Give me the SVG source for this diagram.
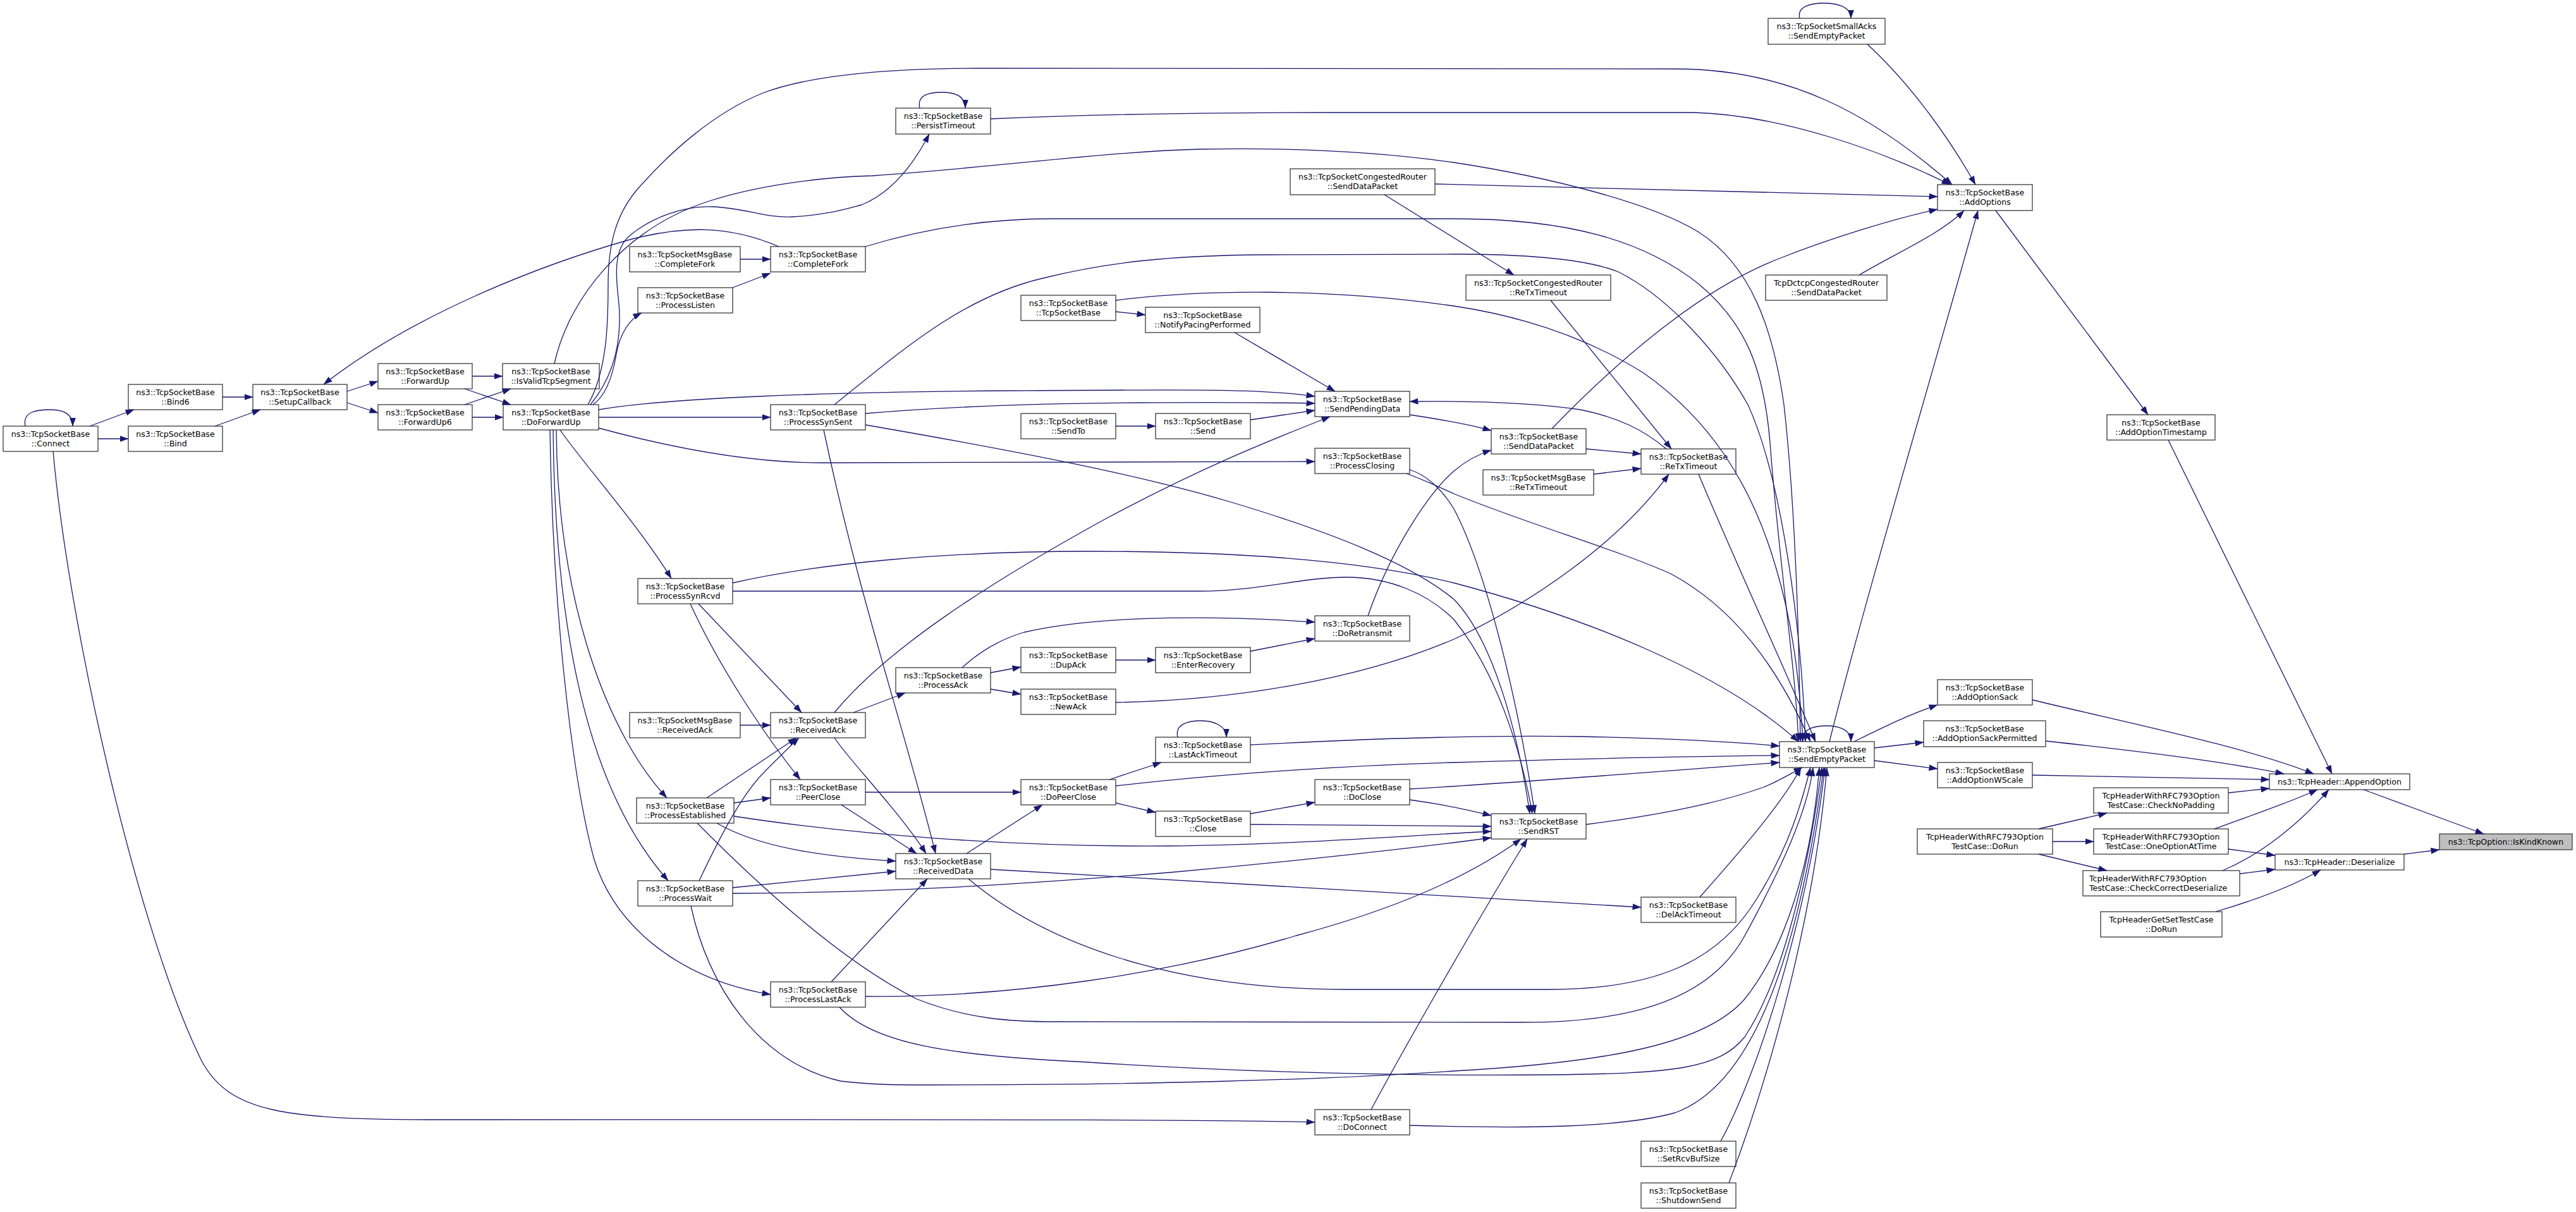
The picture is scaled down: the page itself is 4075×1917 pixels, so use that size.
<svg xmlns="http://www.w3.org/2000/svg" width="4075" height="1917" viewBox="0 0 4075 1917">
<defs>
<marker id="a" markerUnits="userSpaceOnUse" markerWidth="14" markerHeight="10" viewBox="0 0 14 10" refX="13.5" refY="5" orient="auto"><path d="M0,0 L14,5 L0,10 z" fill="#191970"/></marker>
<style>
rect.n{fill:#ffffff;stroke:#484848;stroke-width:1.4}
rect.r{fill:#bfbfbf;stroke:#484848;stroke-width:1.4}
text{font-family:"DejaVu Sans","Liberation Sans",sans-serif;font-size:12.6px;fill:#000000;text-anchor:middle}
text.l{text-anchor:start}
path.e{fill:none;stroke:#191970;stroke-width:1.3;marker-end:url(#a)}
</style>
</defs>
<rect x="0" y="0" width="4075" height="1917" fill="#ffffff"/>
<g id="nodes">
<g id="n_connect"><rect class="n" x="5" y="674" width="150" height="40"/><text x="80" y="691">ns3::TcpSocketBase</text><text x="80" y="706">::Connect</text></g>
<g id="n_bind6"><rect class="n" x="203" y="608" width="149" height="40"/><text x="277.5" y="625">ns3::TcpSocketBase</text><text x="277.5" y="640">::Bind6</text></g>
<g id="n_bind"><rect class="n" x="203" y="674" width="149" height="40"/><text x="277.5" y="691">ns3::TcpSocketBase</text><text x="277.5" y="706">::Bind</text></g>
<g id="n_setup"><rect class="n" x="400" y="608" width="149" height="40"/><text x="474.5" y="625">ns3::TcpSocketBase</text><text x="474.5" y="640">::SetupCallback</text></g>
<g id="n_fwd"><rect class="n" x="598" y="575" width="149" height="40"/><text x="672.5" y="592">ns3::TcpSocketBase</text><text x="672.5" y="607">::ForwardUp</text></g>
<g id="n_fwd6"><rect class="n" x="598" y="640" width="149" height="40"/><text x="672.5" y="657">ns3::TcpSocketBase</text><text x="672.5" y="672">::ForwardUp6</text></g>
<g id="n_isvalid"><rect class="n" x="795" y="575" width="153" height="40"/><text x="871.5" y="592">ns3::TcpSocketBase</text><text x="871.5" y="607">::IsValidTcpSegment</text></g>
<g id="n_dfu"><rect class="n" x="796" y="640" width="151" height="40"/><text x="871.5" y="657">ns3::TcpSocketBase</text><text x="871.5" y="672">::DoForwardUp</text></g>
<g id="n_msgcf"><rect class="n" x="996" y="390" width="175" height="40"/><text x="1083.5" y="407">ns3::TcpSocketMsgBase</text><text x="1083.5" y="422">::CompleteFork</text></g>
<g id="n_plisten"><rect class="n" x="1009" y="455" width="150" height="40"/><text x="1084" y="472">ns3::TcpSocketBase</text><text x="1084" y="487">::ProcessListen</text></g>
<g id="n_psr"><rect class="n" x="1009" y="915" width="150" height="40"/><text x="1084" y="932">ns3::TcpSocketBase</text><text x="1084" y="947">::ProcessSynRcvd</text></g>
<g id="n_msgra"><rect class="n" x="996" y="1127" width="175" height="40"/><text x="1083.5" y="1144">ns3::TcpSocketMsgBase</text><text x="1083.5" y="1159">::ReceivedAck</text></g>
<g id="n_pest"><rect class="n" x="1007" y="1262" width="154" height="40"/><text x="1084" y="1279">ns3::TcpSocketBase</text><text x="1084" y="1294">::ProcessEstablished</text></g>
<g id="n_pwait"><rect class="n" x="1009" y="1393" width="150" height="40"/><text x="1084" y="1410">ns3::TcpSocketBase</text><text x="1084" y="1425">::ProcessWait</text></g>
<g id="n_cf"><rect class="n" x="1219" y="390" width="150" height="40"/><text x="1294" y="407">ns3::TcpSocketBase</text><text x="1294" y="422">::CompleteFork</text></g>
<g id="n_pss"><rect class="n" x="1219" y="640" width="150" height="40"/><text x="1294" y="657">ns3::TcpSocketBase</text><text x="1294" y="672">::ProcessSynSent</text></g>
<g id="n_ra"><rect class="n" x="1219" y="1127" width="150" height="40"/><text x="1294" y="1144">ns3::TcpSocketBase</text><text x="1294" y="1159">::ReceivedAck</text></g>
<g id="n_pclose"><rect class="n" x="1219" y="1233" width="150" height="40"/><text x="1294" y="1250">ns3::TcpSocketBase</text><text x="1294" y="1265">::PeerClose</text></g>
<g id="n_plast"><rect class="n" x="1219" y="1553" width="150" height="40"/><text x="1294" y="1570">ns3::TcpSocketBase</text><text x="1294" y="1585">::ProcessLastAck</text></g>
<g id="n_persist"><rect class="n" x="1417" y="171" width="150" height="41"/><text x="1492" y="188">ns3::TcpSocketBase</text><text x="1492" y="203">::PersistTimeout</text></g>
<g id="n_pack"><rect class="n" x="1417" y="1056" width="150" height="40"/><text x="1492" y="1073">ns3::TcpSocketBase</text><text x="1492" y="1088">::ProcessAck</text></g>
<g id="n_rd"><rect class="n" x="1417" y="1350" width="150" height="40"/><text x="1492" y="1367">ns3::TcpSocketBase</text><text x="1492" y="1382">::ReceivedData</text></g>
<g id="n_tsb"><rect class="n" x="1615" y="467" width="150" height="40"/><text x="1690" y="484">ns3::TcpSocketBase</text><text x="1690" y="499">::TcpSocketBase</text></g>
<g id="n_sendto"><rect class="n" x="1615" y="654" width="150" height="40"/><text x="1690" y="671">ns3::TcpSocketBase</text><text x="1690" y="686">::SendTo</text></g>
<g id="n_dupack"><rect class="n" x="1615" y="1024" width="150" height="40"/><text x="1690" y="1041">ns3::TcpSocketBase</text><text x="1690" y="1056">::DupAck</text></g>
<g id="n_newack"><rect class="n" x="1615" y="1090" width="150" height="40"/><text x="1690" y="1107">ns3::TcpSocketBase</text><text x="1690" y="1122">::NewAck</text></g>
<g id="n_dpc"><rect class="n" x="1615" y="1233" width="150" height="40"/><text x="1690" y="1250">ns3::TcpSocketBase</text><text x="1690" y="1265">::DoPeerClose</text></g>
<g id="n_npp"><rect class="n" x="1812" y="486" width="181" height="40"/><text x="1902.5" y="503">ns3::TcpSocketBase</text><text x="1902.5" y="518">::NotifyPacingPerformed</text></g>
<g id="n_send"><rect class="n" x="1828" y="654" width="150" height="40"/><text x="1903" y="671">ns3::TcpSocketBase</text><text x="1903" y="686">::Send</text></g>
<g id="n_enterrec"><rect class="n" x="1828" y="1024" width="150" height="40"/><text x="1903" y="1041">ns3::TcpSocketBase</text><text x="1903" y="1056">::EnterRecovery</text></g>
<g id="n_lat"><rect class="n" x="1828" y="1166" width="150" height="40"/><text x="1903" y="1183">ns3::TcpSocketBase</text><text x="1903" y="1198">::LastAckTimeout</text></g>
<g id="n_close"><rect class="n" x="1828" y="1283" width="150" height="40"/><text x="1903" y="1300">ns3::TcpSocketBase</text><text x="1903" y="1315">::Close</text></g>
<g id="n_congsdp"><rect class="n" x="2041" y="267" width="229" height="41"/><text x="2155.5" y="284">ns3::TcpSocketCongestedRouter</text><text x="2155.5" y="299">::SendDataPacket</text></g>
<g id="n_spd"><rect class="n" x="2080" y="619" width="150" height="40"/><text x="2155" y="636">ns3::TcpSocketBase</text><text x="2155" y="651">::SendPendingData</text></g>
<g id="n_pclosing"><rect class="n" x="2080" y="709" width="150" height="40"/><text x="2155" y="726">ns3::TcpSocketBase</text><text x="2155" y="741">::ProcessClosing</text></g>
<g id="n_doretx"><rect class="n" x="2080" y="974" width="150" height="40"/><text x="2155" y="991">ns3::TcpSocketBase</text><text x="2155" y="1006">::DoRetransmit</text></g>
<g id="n_doclose"><rect class="n" x="2080" y="1233" width="150" height="40"/><text x="2155" y="1250">ns3::TcpSocketBase</text><text x="2155" y="1265">::DoClose</text></g>
<g id="n_doconn"><rect class="n" x="2080" y="1755" width="150" height="40"/><text x="2155" y="1772">ns3::TcpSocketBase</text><text x="2155" y="1787">::DoConnect</text></g>
<g id="n_congrto"><rect class="n" x="2319" y="435" width="229" height="40"/><text x="2433.5" y="452">ns3::TcpSocketCongestedRouter</text><text x="2433.5" y="467">::ReTxTimeout</text></g>
<g id="n_sdp"><rect class="n" x="2359" y="678" width="150" height="40"/><text x="2434" y="695">ns3::TcpSocketBase</text><text x="2434" y="710">::SendDataPacket</text></g>
<g id="n_msgrto"><rect class="n" x="2346" y="743" width="175" height="40"/><text x="2433.5" y="760">ns3::TcpSocketMsgBase</text><text x="2433.5" y="775">::ReTxTimeout</text></g>
<g id="n_rst"><rect class="n" x="2359" y="1287" width="150" height="40"/><text x="2434" y="1304">ns3::TcpSocketBase</text><text x="2434" y="1319">::SendRST</text></g>
<g id="n_rto"><rect class="n" x="2596" y="710" width="150" height="40"/><text x="2671" y="727">ns3::TcpSocketBase</text><text x="2671" y="742">::ReTxTimeout</text></g>
<g id="n_delack"><rect class="n" x="2596" y="1419" width="150" height="40"/><text x="2671" y="1436">ns3::TcpSocketBase</text><text x="2671" y="1451">::DelAckTimeout</text></g>
<g id="n_setrcv"><rect class="n" x="2596" y="1805" width="150" height="40"/><text x="2671" y="1822">ns3::TcpSocketBase</text><text x="2671" y="1837">::SetRcvBufSize</text></g>
<g id="n_shutdown"><rect class="n" x="2596" y="1871" width="150" height="40"/><text x="2671" y="1888">ns3::TcpSocketBase</text><text x="2671" y="1903">::ShutdownSend</text></g>
<g id="n_smallacks"><rect class="n" x="2797" y="29" width="185" height="41"/><text x="2889.5" y="46">ns3::TcpSocketSmallAcks</text><text x="2889.5" y="61">::SendEmptyPacket</text></g>
<g id="n_dctcp"><rect class="n" x="2793" y="435" width="192" height="40"/><text x="2889" y="452">TcpDctcpCongestedRouter</text><text x="2889" y="467">::SendDataPacket</text></g>
<g id="n_sep"><rect class="n" x="2815" y="1173" width="150" height="41"/><text x="2890" y="1190">ns3::TcpSocketBase</text><text x="2890" y="1205">::SendEmptyPacket</text></g>
<g id="n_addopts"><rect class="n" x="3065" y="292" width="150" height="41"/><text x="3140" y="309">ns3::TcpSocketBase</text><text x="3140" y="324">::AddOptions</text></g>
<g id="n_aosack"><rect class="n" x="3065" y="1075" width="150" height="40"/><text x="3140" y="1092">ns3::TcpSocketBase</text><text x="3140" y="1107">::AddOptionSack</text></g>
<g id="n_aosackp"><rect class="n" x="3043" y="1140" width="193" height="41"/><text x="3139.5" y="1157">ns3::TcpSocketBase</text><text x="3139.5" y="1172">::AddOptionSackPermitted</text></g>
<g id="n_aows"><rect class="n" x="3065" y="1206" width="150" height="40"/><text x="3140" y="1223">ns3::TcpSocketBase</text><text x="3140" y="1238">::AddOptionWScale</text></g>
<g id="n_hdrrun"><rect class="n" x="3033" y="1311" width="214" height="40"/><text x="3140" y="1328">TcpHeaderWithRFC793Option</text><text x="3140" y="1343">TestCase::DoRun</text></g>
<g id="n_aots"><rect class="n" x="3333" y="656" width="171" height="40"/><text x="3418.5" y="673">ns3::TcpSocketBase</text><text x="3418.5" y="688">::AddOptionTimestamp</text></g>
<g id="n_cnp"><rect class="n" x="3312" y="1246" width="213" height="40"/><text x="3418.5" y="1263">TcpHeaderWithRFC793Option</text><text x="3418.5" y="1278">TestCase::CheckNoPadding</text></g>
<g id="n_ooat"><rect class="n" x="3312" y="1311" width="213" height="40"/><text x="3418.5" y="1328">TcpHeaderWithRFC793Option</text><text x="3418.5" y="1343">TestCase::OneOptionAtTime</text></g>
<g id="n_ccd"><rect class="n" x="3295" y="1377" width="248" height="40"/><text class="l" x="3305" y="1394">TcpHeaderWithRFC793Option</text><text class="l" x="3305" y="1409">TestCase::CheckCorrectDeserialize</text></g>
<g id="n_gsdr"><rect class="n" x="3323" y="1442" width="192" height="40"/><text x="3419" y="1459">TcpHeaderGetSetTestCase</text><text x="3419" y="1474">::DoRun</text></g>
<g id="n_append"><rect class="n" x="3590" y="1224" width="222" height="25"/><text x="3701" y="1241">ns3::TcpHeader::AppendOption</text></g>
<g id="n_deser"><rect class="n" x="3599" y="1351" width="204" height="25"/><text x="3701" y="1368">ns3::TcpHeader::Deserialize</text></g>
<g id="n_kind"><rect class="r" x="3859" y="1319" width="210" height="25"/><text x="3964" y="1336">ns3::TcpOption::IsKindKnown</text></g>
</g>
<g id="edges">
<path class="e" d="M40,674 C35,650 60,648 80,648 C100,648 115,655 115,674"/>
<path class="e" d="M142,674 L212,648"/>
<path class="e" d="M155,694 L203,694"/>
<path class="e" d="M84,714 C110,1000 220,1480 320,1680 C365,1760 450,1771 700,1771 C1500,1771 1900,1770 2080,1775"/>
<path class="e" d="M352,628 L400,628"/>
<path class="e" d="M340,674 L412,648"/>
<path class="e" d="M549,619 L598,603"/>
<path class="e" d="M549,637 L598,653"/>
<path class="e" d="M747,595 L795,595"/>
<path class="e" d="M735,615 L808,640"/>
<path class="e" d="M735,640 L808,615"/>
<path class="e" d="M747,660 L796,660"/>
<path class="e" d="M1232,390 C1150,355 1080,358 1000,378 C850,420 650,500 512,608"/>
<path class="e" d="M930,640 C962,585 962,500 962,450 C962,385 975,340 1006,302 C1060,240 1130,178 1207,147 C1290,116 1420,108 1550,108 L2650,109 C2830,109 2960,180 3088,292"/>
<path class="e" d="M877,575 C900,470 990,360 1122,318 C1200,293 1300,280 1380,278 C1600,262 1750,240 1897,236 C2050,233 2180,240 2300,257 C2450,280 2610,320 2687,367 C2770,420 2805,520 2822,640 C2840,800 2846,1000 2848,1173"/>
<path class="e" d="M934,640 C975,590 985,530 978,470 C972,420 975,390 997,372 C1030,345 1080,325 1127,327 C1180,329 1210,345 1252,343 C1310,340 1340,330 1363,324 C1410,305 1445,260 1470,212"/>
<path class="e" d="M938,640 C960,625 970,590 975,560 C980,530 995,505 1015,495"/>
<path class="e" d="M947,648 C1050,630 1300,620 1600,618 C1900,616 2000,615 2080,627"/>
<path class="e" d="M947,660 L1219,660"/>
<path class="e" d="M947,677 C1050,705 1180,732 1300,732 C1600,732 1900,731 2080,730"/>
<path class="e" d="M886,680 C920,730 1010,830 1062,915"/>
<path class="e" d="M880,680 C882,950 960,1160 1055,1262"/>
<path class="e" d="M875,680 C878,1000 930,1250 1057,1393"/>
<path class="e" d="M870,680 C875,1000 910,1250 940,1360 C975,1470 1080,1550 1219,1573"/>
<path class="e" d="M1171,410 L1219,410"/>
<path class="e" d="M1159,455 L1219,432"/>
<path class="e" d="M1369,390 C1450,365 1550,346 1665,346 L2300,346 C2480,346 2600,380 2687,449 C2760,510 2790,580 2800,700 C2815,900 2840,1050 2845,1173"/>
<path class="e" d="M1369,654 C1500,643 1650,638 1800,637 C1950,636 2030,637 2080,638"/>
<path class="e" d="M1320,640 C1420,560 1520,470 1650,440 C1750,415 1850,404 2000,403 L2300,402 C2420,402 2510,410 2560,430 C2640,470 2720,560 2765,640 C2820,760 2850,1000 2856,1173"/>
<path class="e" d="M1369,672 C1600,712 1800,750 1950,795 C2100,840 2230,890 2300,948 C2360,1010 2400,1150 2420,1287"/>
<path class="e" d="M1303,680 C1360,950 1430,1150 1480,1350"/>
<path class="e" d="M1105,955 L1268,1127"/>
<path class="e" d="M1092,955 C1140,1060 1215,1170 1266,1233"/>
<path class="e" d="M1159,922 C1300,890 1500,872 1725,872 C1950,872 2150,885 2300,922 C2500,975 2720,1060 2845,1173"/>
<path class="e" d="M1159,935 L1897,935 C1990,935 2060,913 2130,913 C2200,913 2260,940 2300,980 C2365,1060 2405,1180 2424,1287"/>
<path class="e" d="M1171,1147 L1219,1147"/>
<path class="e" d="M1350,1127 L1432,1096"/>
<path class="e" d="M1320,1127 C1400,1030 1550,930 1750,820 C1900,740 2000,700 2104,659"/>
<path class="e" d="M1320,1167 C1345,1205 1420,1280 1465,1350"/>
<path class="e" d="M1161,1270 L1219,1262"/>
<path class="e" d="M1118,1262 L1260,1167"/>
<path class="e" d="M1134,1302 C1200,1340 1300,1355 1417,1362"/>
<path class="e" d="M1161,1291 C1350,1320 1600,1340 1850,1338 C2050,1336 2250,1320 2359,1315"/>
<path class="e" d="M1103,1302 C1200,1400 1330,1520 1450,1580 C1530,1612 1600,1616 1669,1616 L2400,1617 C2560,1618 2700,1590 2760,1480 C2820,1370 2860,1280 2868,1214"/>
<path class="e" d="M1106,1393 C1150,1300 1180,1250 1210,1220 C1230,1200 1250,1180 1264,1167"/>
<path class="e" d="M1159,1404 L1417,1378"/>
<path class="e" d="M1159,1413 C1400,1412 1600,1400 1850,1380 C2050,1362 2250,1340 2359,1325"/>
<path class="e" d="M1093,1433 C1120,1560 1200,1680 1330,1710 C1380,1716 1420,1716 1476,1716 C1800,1716 2100,1708 2300,1694 C2550,1680 2700,1650 2760,1580 C2840,1480 2870,1320 2878,1214"/>
<path class="e" d="M1315,1553 L1467,1390"/>
<path class="e" d="M1369,1576 C1600,1578 1850,1540 2050,1480 C2200,1440 2320,1390 2406,1327"/>
<path class="e" d="M1328,1593 C1380,1650 1500,1670 1720,1680 C1950,1695 2200,1702 2450,1700 C2650,1698 2720,1690 2760,1640 C2820,1550 2860,1380 2882,1214"/>
<path class="e" d="M1529,1350 L1649,1273"/>
<path class="e" d="M1567,1375 L2596,1435"/>
<path class="e" d="M1532,1390 C1650,1490 1850,1565 2128,1565 L2450,1565 C2620,1565 2720,1520 2780,1420 C2830,1340 2850,1270 2864,1214"/>
<path class="e" d="M1369,1253 L1615,1253"/>
<path class="e" d="M1331,1273 L1450,1350"/>
<path class="e" d="M1567,1064 L1615,1055"/>
<path class="e" d="M1567,1090 L1615,1098"/>
<path class="e" d="M1522,1056 C1550,1030 1580,1012 1620,1000 C1750,970 1950,975 2080,984"/>
<path class="e" d="M1765,1044 L1828,1044"/>
<path class="e" d="M1978,1030 L2080,1010"/>
<path class="e" d="M1765,1111 C1950,1108 2150,1075 2300,1011 C2420,955 2560,860 2640,750"/>
<path class="e" d="M2164,974 C2200,870 2260,780 2300,745 C2320,728 2340,718 2359,712"/>
<path class="e" d="M1863,1166 C1858,1145 1880,1140 1900,1140 C1920,1140 1940,1148 1940,1166"/>
<path class="e" d="M1978,1178 C2100,1172 2300,1162 2500,1165 C2650,1168 2750,1174 2815,1180"/>
<path class="e" d="M1755,1233 L1837,1206"/>
<path class="e" d="M1765,1243 C1950,1222 2150,1210 2300,1206 C2500,1200 2700,1196 2815,1195"/>
<path class="e" d="M1765,1270 L1828,1285"/>
<path class="e" d="M1978,1287 L2080,1269"/>
<path class="e" d="M1978,1304 C2100,1305 2250,1306 2359,1307"/>
<path class="e" d="M2230,1248 C2400,1238 2600,1222 2815,1206"/>
<path class="e" d="M2230,1265 C2280,1272 2320,1280 2359,1290"/>
<path class="e" d="M2509,1304 C2620,1290 2720,1270 2790,1245 C2815,1235 2835,1222 2851,1214"/>
<path class="e" d="M2689,1419 C2750,1350 2820,1270 2849,1214"/>
<path class="e" d="M2169,1755 C2220,1660 2340,1450 2416,1327"/>
<path class="e" d="M2230,1780 C2400,1785 2560,1785 2650,1760 C2760,1720 2840,1550 2885,1214"/>
<path class="e" d="M2722,1805 C2780,1700 2860,1450 2887,1214"/>
<path class="e" d="M2735,1871 C2800,1700 2870,1450 2890,1214"/>
<path class="e" d="M2851,1173 C2850,1150 2875,1148 2890,1148 C2905,1148 2928,1152 2928,1173"/>
<path class="e" d="M2894,1173 C2950,950 3040,650 3129,333"/>
<path class="e" d="M2933,1173 C2980,1150 3020,1130 3065,1115"/>
<path class="e" d="M2965,1183 L3043,1174"/>
<path class="e" d="M2965,1203 L3065,1216"/>
<path class="e" d="M1765,493 L1812,498"/>
<path class="e" d="M1765,475 C1900,458 2100,455 2300,484 C2420,502 2520,540 2600,590 C2700,660 2770,760 2810,900 C2840,1000 2848,1100 2852,1173"/>
<path class="e" d="M1953,526 L2112,619"/>
<path class="e" d="M1765,674 L1828,674"/>
<path class="e" d="M1978,664 L2080,649"/>
<path class="e" d="M2636,710 C2600,680 2560,660 2500,648 C2420,636 2320,634 2230,635"/>
<path class="e" d="M2230,656 C2270,662 2320,670 2359,681"/>
<path class="e" d="M2509,710 L2596,718"/>
<path class="e" d="M2455,678 C2540,590 2680,460 2817,408 C2900,375 3000,345 3065,331"/>
<path class="e" d="M2521,750 L2596,741"/>
<path class="e" d="M2453,475 L2644,710"/>
<path class="e" d="M2687,750 C2750,900 2820,1050 2872,1173"/>
<path class="e" d="M2225,749 C2260,762 2280,772 2300,781 C2420,830 2560,870 2644,908 C2740,960 2810,1050 2864,1173"/>
<path class="e" d="M2230,743 C2260,752 2285,780 2300,805 C2350,900 2400,1100 2428,1287"/>
<path class="e" d="M2270,291 L3065,311"/>
<path class="e" d="M2190,308 L2395,435"/>
<path class="e" d="M1455,171 C1450,150 1470,146 1490,146 C1510,146 1527,152 1527,171"/>
<path class="e" d="M1567,188 C1750,180 1950,178 2100,178 L2680,178 C2820,182 2980,240 3085,292"/>
<path class="e" d="M2847,29 C2842,10 2865,5 2885,5 C2905,5 2928,10 2928,29"/>
<path class="e" d="M2954,70 C3030,140 3090,230 3125,292"/>
<path class="e" d="M2941,435 C3000,400 3070,370 3107,333"/>
<path class="e" d="M3157,333 L3398,656"/>
<path class="e" d="M3430,696 L3689,1224"/>
<path class="e" d="M3215,1107 C3350,1140 3550,1180 3660,1224"/>
<path class="e" d="M3236,1172 C3400,1190 3520,1205 3613,1224"/>
<path class="e" d="M3215,1226 L3590,1233"/>
<path class="e" d="M3525,1254 L3590,1247"/>
<path class="e" d="M3503,1311 C3560,1290 3620,1270 3666,1249"/>
<path class="e" d="M3516,1377 C3580,1350 3640,1300 3684,1249"/>
<path class="e" d="M3525,1343 L3599,1353"/>
<path class="e" d="M3543,1382 L3599,1375"/>
<path class="e" d="M3505,1442 C3580,1420 3630,1400 3671,1376"/>
<path class="e" d="M3739,1249 L3929,1319"/>
<path class="e" d="M3803,1351 L3859,1344"/>
<path class="e" d="M3225,1311 L3333,1286"/>
<path class="e" d="M3247,1331 L3312,1331"/>
<path class="e" d="M3225,1351 L3333,1377"/>
</g>
</svg>
